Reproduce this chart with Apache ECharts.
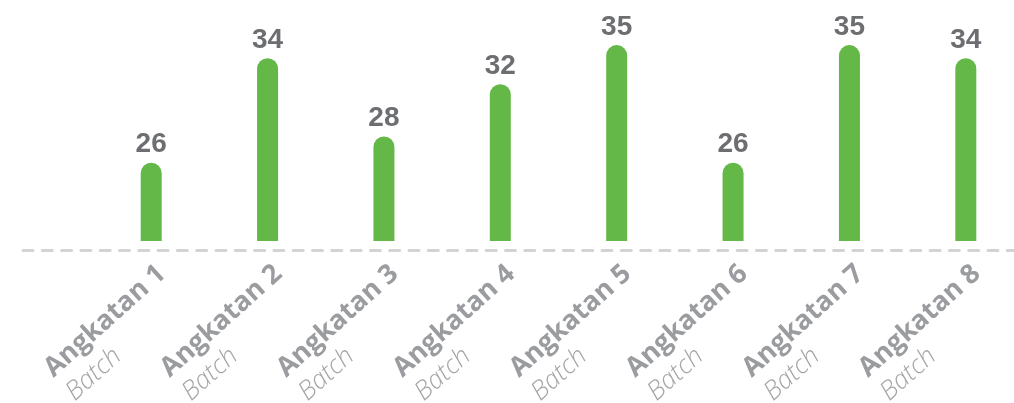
<!DOCTYPE html>
<html>
<head>
<meta charset="utf-8">
<script src="https://cdn.jsdelivr.net/npm/echarts@6/dist/echarts.min.js"></script>
<style>
  html, body { margin: 0; padding: 0; background: #ffffff; }
  #chart { width: 1014px; height: 403px; }
</style>
</head>
<body>
<div id="chart"></div>
<script>
// Participants per cohort
const categories = ['Angkatan 1', 'Angkatan 2', 'Angkatan 3', 'Angkatan 4', 'Angkatan 5', 'Angkatan 6', 'Angkatan 7', 'Angkatan 8'];
const subLabel = 'Batch';
const values = [26, 34, 28, 32, 35, 26, 35, 34];

const chart = echarts.init(document.getElementById('chart'), null, { renderer: 'canvas' });

chart.setOption({
  animation: false,
  backgroundColor: '#ffffff',
  grid: [
    { left: 93, right: -10, top: 32, bottom: 162, containLabel: false, outerBoundsMode: 'none' },
    // thin strip that only carries the dashed baseline
    { left: 23, right: 0, top: 249.5, height: 1, containLabel: false, outerBoundsMode: 'none' }
  ],
  xAxis: [
    {
      type: 'category',
      gridIndex: 0,
      data: categories,
      axisLine: { show: false },
      axisTick: { show: false },
      axisLabel: {
        interval: 0,
        rotate: 42,
        margin: 17,
        align: 'right',
        verticalAlign: 'top',
        padding: 0,
        formatter: function (v) { return '{a|' + v + '}\n{b|' + subLabel + '}'; },
        rich: {
          a: {
            fontFamily: 'Open Sans',
            fontWeight: 'bold',
            fontSize: 27,
            color: '#9a9c9f',
            lineHeight: 32,
            align: 'left'
          },
          b: {
            fontFamily: 'Open Sans',
            fontStyle: 'italic',
            fontWeight: 300,
            fontSize: 26,
            color: '#a3a5a8',
            lineHeight: 32,
            align: 'left'
          }
        }
      }
    },
    {
      type: 'value',
      gridIndex: 1,
      min: 0,
      max: 1,
      axisLine: { show: true, lineStyle: { color: '#d3d3d3', width: 3, type: [10, 9.3] } },
      axisTick: { show: false },
      axisLabel: { show: false },
      splitLine: { show: false }
    }
  ],
  yAxis: [
    {
      type: 'value',
      gridIndex: 0,
      min: 20,
      max: 36,
      show: false,
      splitLine: { show: false }
    },
    {
      type: 'value',
      gridIndex: 1,
      show: false,
      splitLine: { show: false }
    }
  ],
  series: [
    {
      type: 'bar',
      xAxisIndex: 0,
      yAxisIndex: 0,
      data: values,
      barWidth: 21,
      itemStyle: {
        color: '#64b848',
        borderRadius: [10.5, 10.5, 0, 0]
      },
      label: {
        show: true,
        position: 'top',
        distance: 4,
        fontFamily: 'Liberation Sans',
        fontWeight: 'bold',
        fontSize: 28,
        color: '#6d6e71'
      }
    }
  ]
});
</script>
</body>
</html>
